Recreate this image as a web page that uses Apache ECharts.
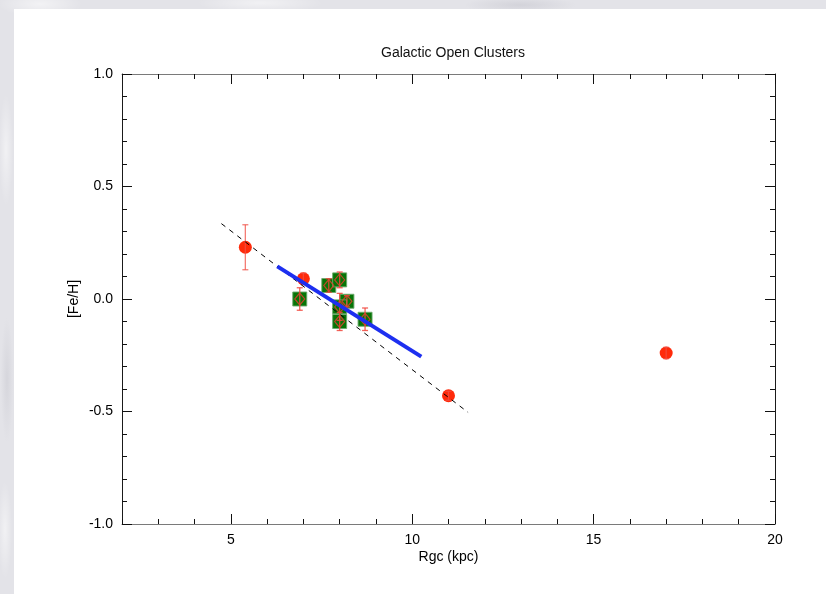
<!DOCTYPE html>
<html>
<head>
<meta charset="utf-8">
<script src="https://cdn.jsdelivr.net/npm/echarts@6/dist/echarts.min.js"></script>
<style>
  html, body { margin: 0; padding: 0; }
  #stage {
    position: relative; width: 826px; height: 594px; overflow: hidden;
    background-color: #e3e3e8;
    background-image:
      radial-gradient(ellipse 60px 18px at 40px 4px, rgba(255,255,255,0.55), rgba(255,255,255,0) 70%),
      radial-gradient(ellipse 90px 14px at 260px 3px, rgba(255,255,255,0.5), rgba(255,255,255,0) 70%),
      radial-gradient(ellipse 80px 12px at 520px 5px, rgba(200,200,208,0.6), rgba(200,200,208,0) 70%),
      radial-gradient(ellipse 10px 80px at 6px 150px, rgba(255,255,255,0.5), rgba(255,255,255,0) 70%),
      radial-gradient(ellipse 9px 90px at 7px 380px, rgba(205,205,212,0.6), rgba(205,205,212,0) 70%),
      radial-gradient(ellipse 10px 70px at 5px 530px, rgba(255,255,255,0.5), rgba(255,255,255,0) 70%);
  }
  #panel { position: absolute; left: 14px; top: 9px; right: 0; bottom: 0; background: #ffffff; }
  #chart { position: absolute; left: 0; top: 0; width: 826px; height: 594px; }
</style>
</head>
<body>
<div id="stage">
  <div id="panel"></div>
  <div id="chart"></div>
</div>
<script>
// Galactocentric radius (kpc) and [Fe/H] for the open clusters (red circles)
const clusterR   = [5.4, 7.0, 11.0, 17.0];
const clusterFeH = [0.23, 0.09, -0.43, -0.24];
const clusterErr = [0.10, 0.025, 0.02, 0.025];

// Clusters near the solar circle (green squares with diamond markers)
const localR   = [6.9, 7.7, 8.0, 8.2, 8.0, 8.0, 8.7];
const localFeH = [0.0, 0.06, 0.085, -0.01, -0.035, -0.10, -0.09];
const localErr = [0.05, 0.03, 0.035, 0.025, 0.06, 0.04, 0.05];

// Gradient fits: end points of the two straight lines
const fitLocalR   = [6.28, 10.25];
const fitLocalFeH = [0.145, -0.256];
const fitAllR     = [4.74, 11.54];
const fitAllFeH   = [0.335, -0.504];

// Axis ticks
const xMajorTicks = [5, 10, 15, 20];
const xRange = [2, 20];
const yRange = [-1, 1];

const pairs = (xs, ys) => xs.map((x, i) => [x, ys[i]]);
const errRows = (xs, ys, es) => xs.map((x, i) => [x, ys[i] - es[i], ys[i] + es[i]]);

const font = 'Liberation Sans, Arial, Helvetica, sans-serif';
const hLine = '#7a7a7a';
const vLine = '#1a1a1a';

function minorX(position) {
  return {
    type: 'value', position, min: xRange[0], max: xRange[1], interval: 1,
    axisLine: { show: true, onZero: false, lineStyle: { color: hLine, width: 1 } },
    axisTick: { show: true, inside: true, length: 5, lineStyle: { color: '#111' } },
    axisLabel: { show: false }, splitLine: { show: false }
  };
}
function majorX(position, withLabels) {
  return {
    type: 'value', position, min: xRange[0], max: xRange[1],
    axisLine: { show: false, onZero: false },
    axisTick: { show: true, inside: true, length: 10, customValues: xMajorTicks, lineStyle: { color: '#111' } },
    axisLabel: {
      show: withLabels, customValues: xMajorTicks, margin: 9,
      fontSize: 14, color: '#000', fontFamily: font
    },
    splitLine: { show: false },
    name: withLabels ? 'Rgc (kpc)' : '',
    nameLocation: 'middle', nameGap: 26, nameMoveOverlap: false,
    nameTextStyle: { fontSize: 14, color: '#000', fontFamily: font }
  };
}
function yAx(position, withLabels) {
  return {
    type: 'value', position, min: yRange[0], max: yRange[1], interval: 0.5,
    axisLine: { show: true, onZero: false, lineStyle: { color: vLine, width: 1 } },
    axisTick: { show: true, inside: true, length: 10, lineStyle: { color: '#111' } },
    minorTick: { show: true, splitNumber: 5, length: 5, lineStyle: { color: '#111' } },
    axisLabel: {
      show: withLabels, margin: 9, fontSize: 14, color: '#000', fontFamily: font,
      formatter: v => v.toFixed(1)
    },
    splitLine: { show: false }, minorSplitLine: { show: false },
    name: withLabels ? '[Fe/H]' : '',
    nameLocation: 'middle', nameGap: 41, nameRotate: 90, nameMoveOverlap: false,
    nameTextStyle: { fontSize: 14, color: '#000', fontFamily: font }
  };
}

function errorBar(color) {
  return function (params, api) {
    const x = api.value(0);
    const lo = api.coord([x, api.value(1)]);
    const hi = api.coord([x, api.value(2)]);
    const cap = 3;
    const style = { stroke: color, lineWidth: 1.3 };
    return {
      type: 'group',
      children: [
        { type: 'line', shape: { x1: lo[0], y1: lo[1], x2: hi[0], y2: hi[1] }, style },
        { type: 'line', shape: { x1: lo[0] - cap, y1: lo[1], x2: lo[0] + cap, y2: lo[1] }, style },
        { type: 'line', shape: { x1: hi[0] - cap, y1: hi[1], x2: hi[0] + cap, y2: hi[1] }, style }
      ]
    };
  };
}

const chart = echarts.init(document.getElementById('chart'), null, { renderer: 'canvas' });
chart.setOption({
  backgroundColor: 'transparent',
  animation: false,
  title: {
    text: 'Galactic Open Clusters', left: 448, top: 41, textAlign: 'center',
    textStyle: { fontSize: 14, fontWeight: 'normal', color: '#111', fontFamily: font }
  },
  grid: { left: 122, right: 51, top: 74, bottom: 70 },
  xAxis: [minorX('bottom'), majorX('bottom', true), minorX('top'), majorX('top', false)],
  yAxis: [yAx('left', true), yAx('right', false)],
  series: [
    {
      type: 'scatter', name: 'local', xAxisIndex: 0, yAxisIndex: 0, z: 2,
      symbol: 'rect', symbolSize: 14,
      itemStyle: { color: '#077507', opacity: 1, borderColor: 'rgba(110,170,110,0.9)', borderWidth: 1 },
      data: pairs(localR, localFeH)
    },
    {
      type: 'scatter', name: 'clusters', xAxisIndex: 0, yAxisIndex: 0, z: 2,
      symbol: 'circle', symbolSize: 13,
      itemStyle: { color: '#ff2a0a', opacity: 1 },
      data: pairs(clusterR, clusterFeH)
    },
    {
      type: 'custom', name: 'cluster errors', xAxisIndex: 0, yAxisIndex: 0, z: 3,
      renderItem: errorBar('rgba(240,80,70,0.75)'),
      encode: { x: 0, y: [1, 2] },
      data: errRows(clusterR, clusterFeH, clusterErr)
    },
    {
      type: 'custom', name: 'local errors', xAxisIndex: 0, yAxisIndex: 0, z: 3,
      renderItem: errorBar('rgba(240,70,60,0.85)'),
      encode: { x: 0, y: [1, 2] },
      data: errRows(localR, localFeH, localErr)
    },
    {
      type: 'scatter', name: 'local diamonds', xAxisIndex: 0, yAxisIndex: 0, z: 4,
      symbol: 'diamond', symbolSize: [10, 12],
      itemStyle: { color: 'rgba(0,0,0,0)', opacity: 1, borderColor: 'rgba(235,60,50,0.8)', borderWidth: 1.2 },
      data: pairs(localR, localFeH)
    },
    {
      type: 'line', name: 'all-cluster gradient', xAxisIndex: 0, yAxisIndex: 0, z: 5,
      symbol: 'none', silent: true,
      lineStyle: { color: '#000', width: 1, type: [5, 5] },
      data: pairs(fitAllR, fitAllFeH)
    },
    {
      type: 'line', name: 'local gradient', xAxisIndex: 0, yAxisIndex: 0, z: 6,
      symbol: 'none', silent: true,
      lineStyle: { color: '#1d2ff0', width: 4 },
      data: pairs(fitLocalR, fitLocalFeH)
    }
  ]
});
</script>
</body>
</html>
